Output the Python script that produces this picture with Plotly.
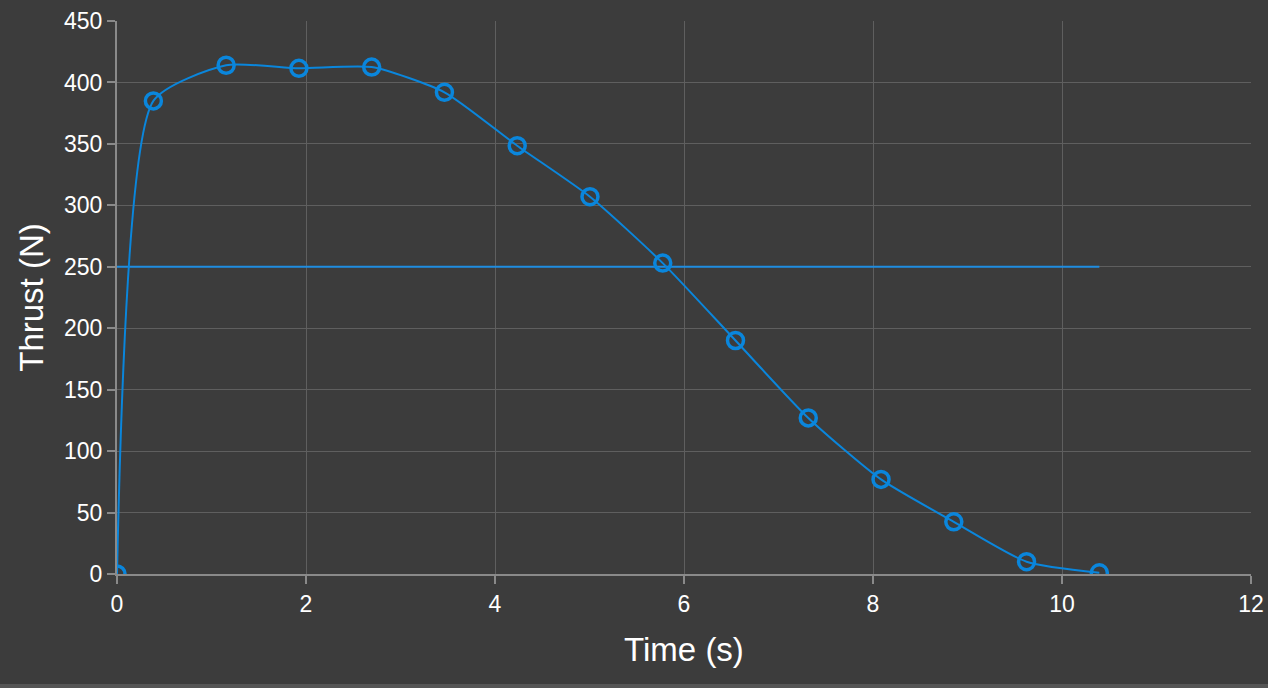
import plotly.graph_objects as go

time_s = [0, 0.385, 1.155, 1.925, 2.695, 3.465, 4.235, 5.005, 5.775, 6.545, 7.315, 8.085, 8.855, 9.625, 10.395]
thrust_n = [0, 385, 414, 411.5, 412.5, 392, 348.5, 307, 253, 190, 127, 77, 42.5, 10, 1]
avg_time = [0, 10.395]
avg_thrust = [250, 250]

x_ticks = [0, 2, 4, 6, 8, 10, 12]
y_ticks = [0, 50, 100, 150, 200, 250, 300, 350, 400, 450]

BLUE = "#0a86dc"
BG = "#3c3c3c"
FONT = "Liberation Sans, Arial, sans-serif"

fig = go.Figure()
fig.add_trace(go.Scatter(
    x=avg_time, y=avg_thrust, mode="lines",
    line=dict(color="#1f8de0", width=2),
    hoverinfo="skip", showlegend=False,
))
fig.add_trace(go.Scatter(
    x=time_s, y=thrust_n, mode="lines+markers",
    line=dict(color=BLUE, width=2, shape="spline", smoothing=0.6),
    marker=dict(symbol="circle-open", size=16, color=BLUE, line=dict(width=3.5, color=BLUE)),
    showlegend=False,
))

axis_common = dict(
    showgrid=True, gridcolor="#5f5f5f", gridwidth=1.3,
    showline=True, linecolor="#8a8a8a", linewidth=2,
    ticks="outside", tickcolor="#8a8a8a", ticklen=8, tickwidth=2,
    tickfont=dict(family=FONT, size=23, color="white"),
    zeroline=False, automargin=False,
)

fig.update_layout(
    width=1268, height=688,
    paper_bgcolor=BG, plot_bgcolor=BG,
    margin=dict(l=117, r=17, t=21, b=114, autoexpand=False),
    xaxis=dict(range=[0, 12], tickvals=x_ticks,
               title=dict(text="Time (s)", font=dict(family=FONT, size=33, color="white"), standoff=22),
               **axis_common),
    yaxis=dict(range=[0, 450], tickvals=y_ticks,
               title=dict(text="Thrust (N)", font=dict(family=FONT, size=33, color="white"), standoff=10),
               **axis_common),
    shapes=[dict(type="rect", xref="paper", yref="paper",
                 x0=-117 / 1134, x1=1 + 17 / 1134, y0=-114 / 553, y1=-110 / 553,
                 fillcolor="#555555", line=dict(width=0), layer="below")],
)

fig.write_html("out.html", config={"displayModeBar": False},
               post_script="document.body.style.margin='0';document.body.style.background='#3c3c3c';")
